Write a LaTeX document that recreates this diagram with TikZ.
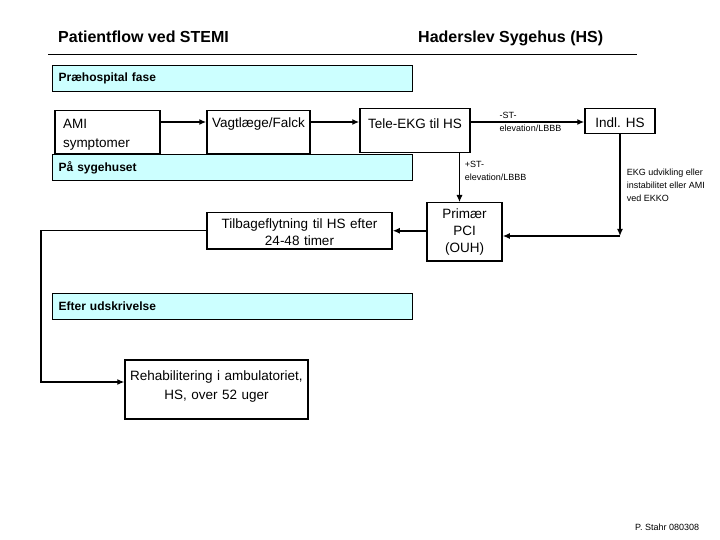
\documentclass[tikz,border=0pt]{standalone}
\usepackage{fontspec}
\setmainfont{Liberation Sans}
\usepackage{xcolor}
\usepackage{tikz}
\usetikzlibrary{arrows.meta, positioning, calc}
\definecolor{bandcyan}{HTML}{CCFFFF}
\tikzset{
  box/.style={draw, line width=1.5pt, fill=white, anchor=north,
              inner xsep=0pt, inner ysep=0pt, align=center,
              font=\fontsize{13.5}{18.5}\selectfont},
  band/.style={draw, line width=1.2pt, fill=bandcyan, anchor=north west,
               minimum height=26pt, inner xsep=6pt, inner ysep=0pt,
               text width=348pt, align=left,
               font=\fontsize{12}{14}\selectfont\bfseries},
  arrow/.style={-{Latex[length=7pt,width=6pt]}, line width=1.6pt},
  thinarrow/.style={-{Latex[length=7pt,width=6pt]}, line width=0.9pt},
  lbl/.style={align=left, inner sep=0pt, font=\fontsize{9}{13}\selectfont},
  note/.style={lbl, font=\fontsize{9}{13}\selectfont},
  title/.style={anchor=base west, inner sep=0pt,
                font=\fontsize{16}{18}\selectfont\bfseries}
}

\begin{document}
\begin{tikzpicture}[x=1pt, y=-1pt]
  \useasboundingbox[fill=white] (0,0) rectangle (720,540);

  % Header
  \node[title] (flow) at (58,43) {Patientflow ved STEMI};
  \node[title] (hs) at (418,43) {Haderslev Sygehus (HS)};
  \draw[line width=0.8pt] (48,54) -- (637,54);

  % Phase bands
  \node[band] (pre) at (52,65) {Præhospital fase};
  \node[band] (hosp) at (52,154) {På sygehuset};
  \node[band] (after) at (52,293) {Efter udskrivelse};

  % Prehospital row
  \node[box, minimum width=105pt, text width=89pt, align=left,
        text height=18pt, text depth=25pt]
    (ami) at (107.5,110) {AMI\\symptomer};
  \node[box, minimum width=103pt, text height=17pt, text depth=26pt]
    (vagt) at (258.5,110) {Vagtlæge/Falck};
  \node[box, minimum width=110pt, text height=20pt, text depth=24pt]
    (tele) at (415,108) {Tele-EKG til HS};
  \node[box, minimum width=70pt, text height=19pt, text depth=6pt]
    (indl) at (620,108) {Indl. HS};

  % Hospital
  \node[box, text width=75pt, text height=16pt, text depth=42pt,
        font=\fontsize{13.5}{17}\selectfont]
    (pci) at (464.5,202) {Primær\\PCI\\(OUH)};
  \node[box, text width=185pt, text height=16pt, text depth=20pt,
        font=\fontsize{13.5}{17}\selectfont]
    (tilbage) at (299.5,212) {Tilbageflytning til HS efter\\24-48 timer};

  % After discharge
  \node[box, text width=183pt, text height=21pt, text depth=38pt]
    (rehab) at (216.5,359) {Rehabilitering i ambulatoriet,\\HS, over 52 uger};

  % Arrows
  \coordinate (row) at (0,122);
  \coordinate (turnrow) at (0,236);
  \coordinate (backturn) at (41,382);
  \coordinate (pcitop) at ([xshift=-5pt]pci.north);
  \draw[arrow] (ami.east |- row) -- (vagt.west |- row);
  \draw[arrow] (vagt.east |- row) -- (tele.west |- row);
  \draw[arrow] (tele.east |- row) --
      node[lbl, midway, xshift=3pt] (negst) {-ST-\\elevation/LBBB}
      (indl.west |- row);
  \draw[thinarrow] (tele.south -| pcitop) --
      node[lbl, pos=0.36, right=5pt] (posst) {+ST-\\elevation/LBBB}
      (pcitop);
  \draw[arrow] (indl.south) --
      node[note, midway, right=6pt] (ekg)
        {EKG udvikling eller\\instabilitet eller AMI\\ved EKKO}
      (indl.south |- turnrow) coordinate (turn);
  \draw[arrow] (turn) -- (turn -| pci.east);
  \draw[arrow] (pci.west |- tilbage.east) -- (tilbage.east);
  \draw[arrow, line width=1.1pt] (tilbage.west) -| (backturn)
      -- (rehab.west |- backturn);

  % Footer
  \node[lbl, anchor=west] (sign) at (635,527) {P. Stahr 080308};
\end{tikzpicture}
\end{document}
